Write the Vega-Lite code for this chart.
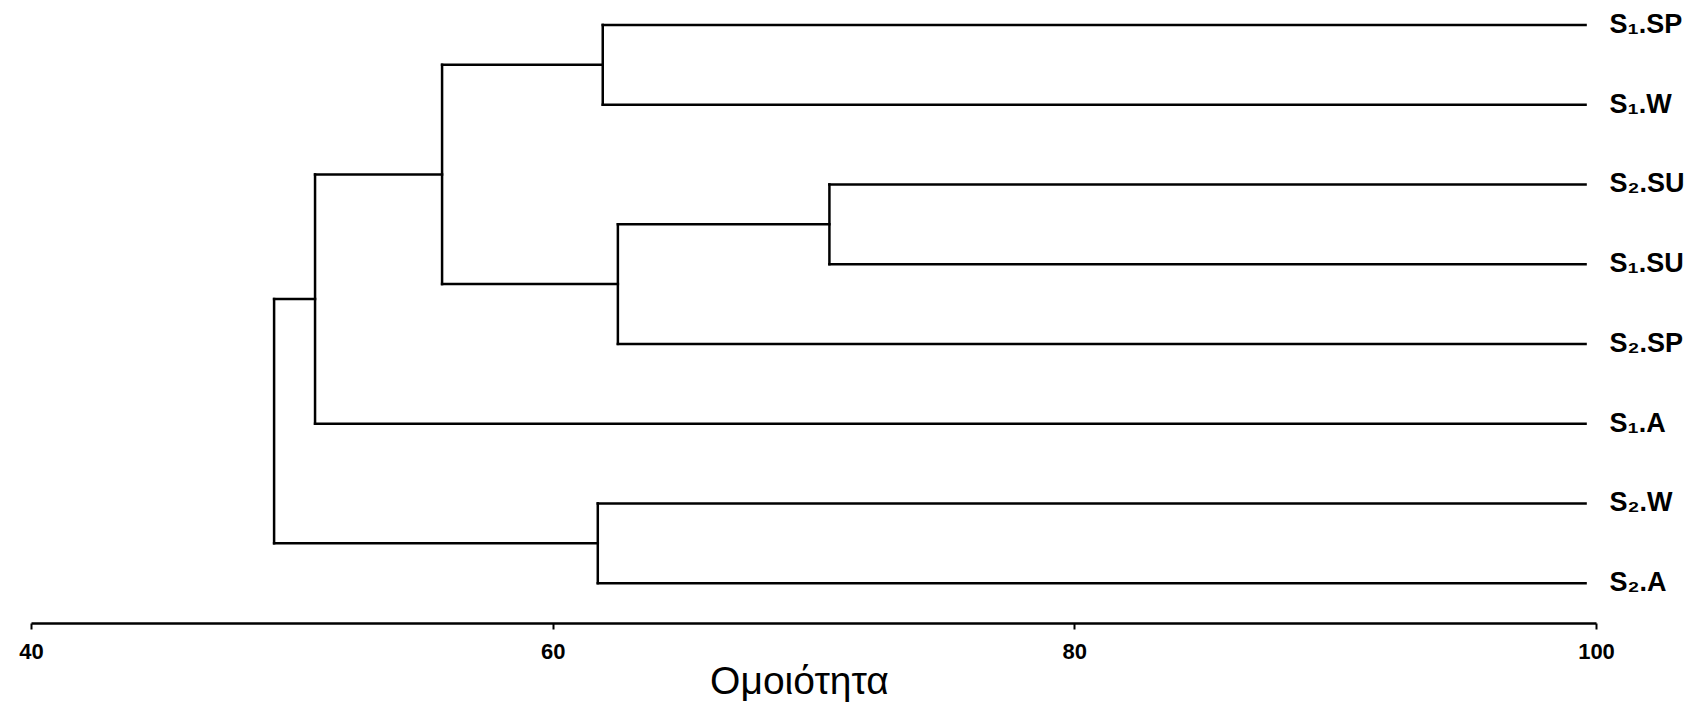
{
  "$schema": "https://vega.github.io/schema/vega-lite/v6.json",
  "width": 1565,
  "height": 622,
  "autosize": {"type": "none"},
  "padding": {"left": 31, "top": 1, "right": 110, "bottom": 80},
  "background": "white",
  "config": {"view": {"stroke": null}},
  "datasets": {
    "segments": [
      {"part": "S1.SP", "sim": 61.92, "sim2": 99.6, "pos": 0, "pos2": 0},
      {"part": "S1.W", "sim": 61.92, "sim2": 99.6, "pos": 1, "pos2": 1},
      {"part": "S2.SU", "sim": 70.61, "sim2": 99.6, "pos": 2, "pos2": 2},
      {"part": "S1.SU", "sim": 70.61, "sim2": 99.6, "pos": 3, "pos2": 3},
      {"part": "S2.SP", "sim": 62.5, "sim2": 99.6, "pos": 4, "pos2": 4},
      {"part": "S1.A", "sim": 50.89, "sim2": 99.6, "pos": 5, "pos2": 5},
      {"part": "S2.W", "sim": 61.73, "sim2": 99.6, "pos": 6, "pos2": 6},
      {"part": "S2.A", "sim": 61.73, "sim2": 99.6, "pos": 7, "pos2": 7},
      {"part": "A vertical", "sim": 61.92, "sim2": 61.92, "pos": 0, "pos2": 1},
      {"part": "B vertical", "sim": 70.61, "sim2": 70.61, "pos": 2, "pos2": 3},
      {"part": "C vertical", "sim": 62.5, "sim2": 62.5, "pos": 2.5, "pos2": 4},
      {"part": "D vertical", "sim": 55.76, "sim2": 55.76, "pos": 0.5, "pos2": 3.25},
      {"part": "E vertical", "sim": 50.89, "sim2": 50.89, "pos": 1.875, "pos2": 5},
      {"part": "F vertical", "sim": 61.73, "sim2": 61.73, "pos": 6, "pos2": 7},
      {"part": "G vertical", "sim": 49.32, "sim2": 49.32, "pos": 3.4375, "pos2": 6.5},
      {"part": "A link", "sim": 55.76, "sim2": 61.92, "pos": 0.5, "pos2": 0.5},
      {"part": "B link", "sim": 62.5, "sim2": 70.61, "pos": 2.5, "pos2": 2.5},
      {"part": "C link", "sim": 55.76, "sim2": 62.5, "pos": 3.25, "pos2": 3.25},
      {"part": "D link", "sim": 50.89, "sim2": 55.76, "pos": 1.875, "pos2": 1.875},
      {"part": "E link", "sim": 49.32, "sim2": 50.89, "pos": 3.4375, "pos2": 3.4375},
      {"part": "F link", "sim": 49.32, "sim2": 61.73, "pos": 6.5, "pos2": 6.5}
    ],
    "leaves": [
      {"label": "S₁.SP", "sim": 99.6, "pos": 0},
      {"label": "S₁.W", "sim": 99.6, "pos": 1},
      {"label": "S₂.SU", "sim": 99.6, "pos": 2},
      {"label": "S₁.SU", "sim": 99.6, "pos": 3},
      {"label": "S₂.SP", "sim": 99.6, "pos": 4},
      {"label": "S₁.A", "sim": 99.6, "pos": 5},
      {"label": "S₂.W", "sim": 99.6, "pos": 6},
      {"label": "S₂.A", "sim": 99.6, "pos": 7}
    ]
  },
  "layer": [
    {
      "data": {"name": "segments"},
      "mark": {"type": "rule", "color": "black", "strokeWidth": 2.5, "strokeCap": "square"},
      "encoding": {
        "x": {
          "field": "sim",
          "type": "quantitative",
          "scale": {"domain": [40, 100], "nice": false, "zero": false},
          "axis": {
            "values": [40, 60, 80, 100],
            "title": "Ομοιότητα",
            "titleFont": "Liberation Sans Narrow, Liberation Sans, Arial, sans-serif",
            "titleFontSize": 39,
            "titleFontWeight": "normal",
            "titleColor": "black",
            "titlePadding": 0,
            "titleX": 768,
            "labelFont": "Liberation Sans Narrow, Liberation Sans, Arial, sans-serif",
            "labelFontSize": 22,
            "labelFontWeight": "bold",
            "labelColor": "black",
            "labelPadding": 12,
            "labelFlush": false,
            "domainColor": "black",
            "domainWidth": 2.5,
            "tickColor": "black",
            "tickWidth": 2,
            "tickSize": 6,
            "grid": false
          }
        },
        "x2": {"field": "sim2"},
        "y": {
          "field": "pos",
          "type": "quantitative",
          "scale": {"domain": [-0.3, 7.5], "reverse": true, "nice": false, "zero": false},
          "axis": null
        },
        "y2": {"field": "pos2"}
      }
    },
    {
      "data": {"name": "leaves"},
      "mark": {
        "type": "text",
        "align": "left",
        "baseline": "middle",
        "dx": 24,
        "fontSize": 27,
        "fontWeight": "bold",
        "font": "Liberation Sans Narrow, Liberation Sans, Arial, sans-serif",
        "color": "black"
      },
      "encoding": {
        "x": {"field": "sim", "type": "quantitative"},
        "y": {"field": "pos", "type": "quantitative"},
        "text": {"field": "label"}
      }
    }
  ]
}
